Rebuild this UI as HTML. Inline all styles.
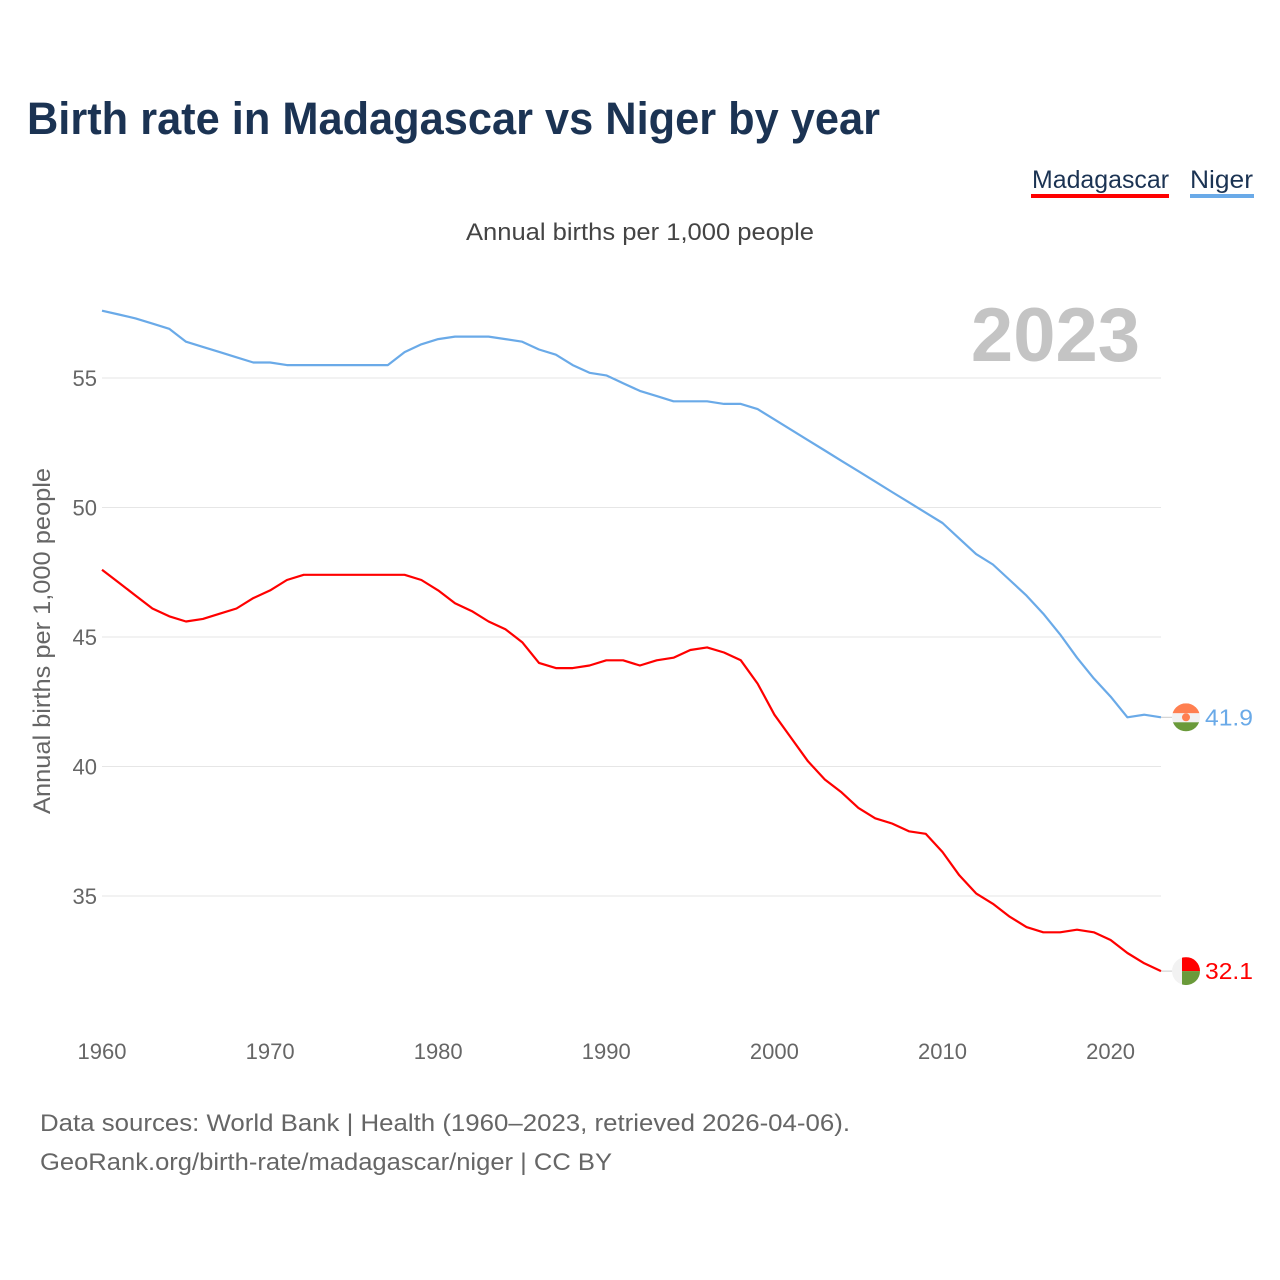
<!DOCTYPE html>
<html><head><meta charset="utf-8"><style>
body{margin:0;background:#fff;font-family:"Liberation Sans",sans-serif;}
#wrap{position:relative;width:1280px;height:1280px;overflow:hidden}
</style></head><body>
<div id="wrap">
<svg id="chart" width="1280" height="1280"></svg>
</div>
<script>
const years=[];for(let y=1960;y<=2023;y++)years.push(y);
const niger=[57.6,57.45,57.3,57.1,56.9,56.4,56.2,56.0,55.8,55.6,55.6,55.5,55.5,55.5,55.5,55.5,55.5,55.5,56.0,56.3,56.5,56.6,56.6,56.6,56.5,56.4,56.1,55.9,55.5,55.2,55.1,54.8,54.5,54.3,54.1,54.1,54.1,54.0,54.0,53.8,53.4,53.0,52.6,52.2,51.8,51.4,51.0,50.6,50.2,49.8,49.4,48.8,48.2,47.8,47.2,46.6,45.9,45.1,44.2,43.4,42.7,41.9,42.0,41.9];
const madagascar=[47.6,47.1,46.6,46.1,45.8,45.6,45.7,45.9,46.1,46.5,46.8,47.2,47.4,47.4,47.4,47.4,47.4,47.4,47.4,47.2,46.8,46.3,46.0,45.6,45.3,44.8,44.0,43.8,43.8,43.9,44.1,44.1,43.9,44.1,44.2,44.5,44.6,44.4,44.1,43.2,42.0,41.1,40.2,39.5,39.0,38.4,38.0,37.8,37.5,37.4,36.7,35.8,35.1,34.7,34.2,33.8,33.6,33.6,33.7,33.6,33.3,32.8,32.4,32.1];
const yTicks=[35,40,45,50,55];
const xTicks=[1960,1970,1980,1990,2000,2010,2020];
const NS="http://www.w3.org/2000/svg";
const svg=document.getElementById('chart');
const xs=y=>102+(y-1960)*(1161-102)/63;
const ys=v=>378+(55-v)*25.9;
function el(t,a,txt){const e=document.createElementNS(NS,t);for(const k in a)e.setAttribute(k,a[k]);if(txt!==undefined)e.textContent=txt;svg.appendChild(e);return e;}
let e;
e=el('text',{x:27,y:134,'font-size':45,'font-weight':'bold',fill:'#1b3353',textLength:853,lengthAdjust:'spacingAndGlyphs'},'Birth rate in Madagascar vs Niger by year');

e=el('text',{x:1032,y:188,'font-size':25,fill:'#1b3353',textLength:137,lengthAdjust:'spacingAndGlyphs'},'Madagascar');

e=el('rect',{x:1031,y:194,width:138,height:4,fill:'#ff0000'});

e=el('text',{x:1190,y:188,'font-size':25,fill:'#1b3353',textLength:63,lengthAdjust:'spacingAndGlyphs'},'Niger');

e=el('rect',{x:1190,y:194,width:64,height:4,fill:'#6aaae8'});

e=el('text',{x:466,y:240,'font-size':24,fill:'#444',textLength:348,lengthAdjust:'spacingAndGlyphs'},'Annual births per 1,000 people');

e=el('text',{x:1140,y:361,'font-size':76,'font-weight':'bold',fill:'#c4c4c4','text-anchor':'end'},'2023');

yTicks.forEach(v=>{
 e=el('line',{x1:102,x2:1161,y1:ys(v),y2:ys(v),stroke:'#e6e6e6','stroke-width':1});
 
 e=el('text',{x:97,y:ys(v)+8,'font-size':22,fill:'#666','text-anchor':'end'},v);
 
});
xTicks.forEach(v=>{
 e=el('text',{x:xs(v),y:1059,'font-size':22,fill:'#666','text-anchor':'middle'},v);
 
});
e=el('text',{x:-814,y:50,'font-size':24,fill:'#666',transform:'rotate(-90)',textLength:346,lengthAdjust:'spacingAndGlyphs'},'Annual births per 1,000 people');

function line(data,color,name){
 const d=data.map((v,i)=>(i?'L':'M')+xs(years[i]).toFixed(1)+','+ys(v).toFixed(1)).join('');
 const p=el('path',{d:d,fill:'none',stroke:color,'stroke-width':2.2,'stroke-linejoin':'round'});
 
 const last=data[data.length-1];
 const ly=ys(last);
 const c=el('line',{x1:xs(2023),x2:1172,y1:ly,y2:ly,stroke:'#ccc','stroke-width':1});
 
 const t=el('text',{x:1205,y:ly+8,'font-size':23,fill:color,textLength:48,lengthAdjust:'spacingAndGlyphs'},last.toFixed(1));
 
 return ly;
}
const ny=line(niger,'#6aaae8','niger-line');
const my=line(madagascar,'#ff0000','madagascar-line');
const cx=1186,r=14;
let g=document.createElementNS(NS,'g');svg.appendChild(g);


g.innerHTML=`<defs><clipPath id="c1"><circle cx="${cx}" cy="${ny}" r="${r}"/></clipPath><clipPath id="c2"><circle cx="${cx}" cy="${my}" r="${r}"/></clipPath></defs>
<g clip-path="url(#c1)"><rect x="${cx-r}" y="${ny-r}" width="28" height="10" fill="#ff7f50"/><rect x="${cx-r}" y="${ny-4}" width="28" height="9" fill="#f2f2f2"/><rect x="${cx-r}" y="${ny+5}" width="28" height="10" fill="#6a9a3a"/><circle cx="${cx}" cy="${ny}" r="4" fill="#ff7f50"/></g>
<g clip-path="url(#c2)"><rect x="${cx-r}" y="${my-r}" width="10" height="28" fill="#f2f2f2"/><rect x="${cx-4}" y="${my-r}" width="19" height="14" fill="#ff0000"/><rect x="${cx-4}" y="${my}" width="19" height="14" fill="#6a9a3a"/></g>`;
e=el('text',{x:40,y:1131,'font-size':24,fill:'#666',textLength:810,lengthAdjust:'spacingAndGlyphs'},'Data sources: World Bank | Health (1960–2023, retrieved 2026-04-06).');

e=el('text',{x:40,y:1170,'font-size':24,fill:'#666',textLength:572,lengthAdjust:'spacingAndGlyphs'},'GeoRank.org/birth-rate/madagascar/niger | CC BY');

</script>
</body></html>
